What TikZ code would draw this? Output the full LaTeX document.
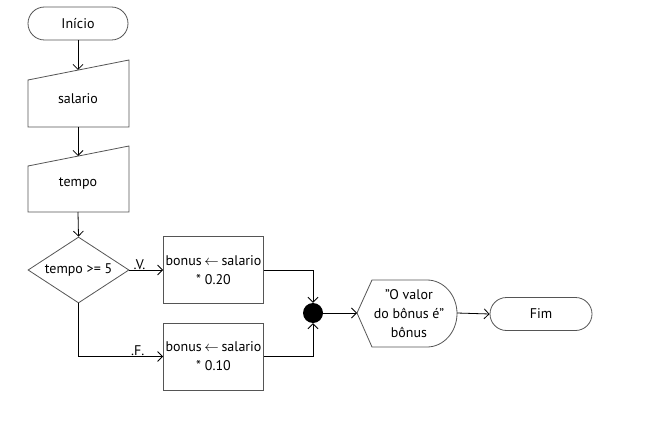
\documentclass[tikz,border=0pt]{standalone}
\usepackage{fontspec}
\setmainfont{PT Sans}
\usetikzlibrary{arrows.meta,shapes.geometric}
\definecolor{shapeline}{HTML}{555555}
\tikzset{
  x=1pt, y=-1pt,
  every node/.style={font=\fontsize{14}{19}\selectfont, text=black},
  shapeline/.style={draw=shapeline, line width=0.8pt},
  terminal/.style={shapeline, rounded corners=16.5pt, minimum height=33pt, inner sep=0pt},
  procbox/.style={shapeline, minimum width=100pt, minimum height=67pt, inner sep=0pt, align=center},
  decision/.style={shapeline, diamond, minimum width=101pt, minimum height=66pt, inner sep=0pt, aspect=1.5},
  conn/.style={draw=black, line width=0.8pt, -{Straight Barb[length=5pt,width=10pt]}},
  lbl/.style={font=\fontsize{14}{14}\selectfont},
}
\newcommand{\larr}{\kern-1pt$\leftarrow$\kern-1pt}
\newcommand{\dq}{\symbol{34}}
\begin{document}
\begin{tikzpicture}
\useasboundingbox[fill=white] (0,0) rectangle (645,433);
% start
\node[terminal, minimum width=100pt] (inicio) at (78,23.5) {Início};
% manual input: salario
\draw[shapeline] (28,80) -- (129,60) -- (129,127) -- (28,127) -- cycle;
\node (salario) at (78,99) {salario};
\coordinate (salarioTop) at (78,70);
\coordinate (salarioBot) at (78,127);
% manual input: tempo
\draw[shapeline] (28,166) -- (129,146) -- (129,212) -- (28,212) -- cycle;
\node (tempo) at (78,184) {tempo};
\coordinate (tempoTop) at (78,156);
\coordinate (tempoBot) at (78,212);
% decision
\node[decision] (dec) at (78.5,270) {tempo >= 5};
% process boxes
\node[procbox] (b1) at (213.5,270) {bonus \larr{} salario\\* 0.20};
\node[procbox] (b2) at (213.5,356.5) {bonus \larr{} salario\\* 0.10};
% junction
\node[circle, fill=black, minimum size=20pt, inner sep=0pt] (junc) at (313,313) {};
% display
\draw[shapeline] (357,313) -- (372,280) -- (427,280)
   arc[start angle=90, end angle=-90, x radius=30, y radius=-33.5] -- (372,347) -- cycle;
\node[align=center] (disp) at (409,313.5) {\dq O valor\\do bônus é\dq\\bônus};
\coordinate (dispL) at (357,313);
\coordinate (dispR) at (457,313);
% end
\node[terminal, minimum width=102pt] (fim) at (541,314) {Fim};
% connectors
\draw[conn] (inicio) -- (salarioTop);
\draw[conn] (salarioBot) -- (tempoTop);
\draw[conn] (tempoBot) -- (dec.north);
\draw[conn] (dec.east) -- node[lbl, above, pos=0.3, yshift=-3pt] {.V.} (b1.west);
\draw[conn] (dec.south) |- node[lbl, above, pos=0.85, yshift=-3pt] {.F.} (b2.west);
\draw[conn] (b1.east) -| (junc.north);
\draw[conn] (b2.east) -| (junc.south);
\draw[conn] (junc.east) -- (dispL);
\draw[conn] (dispR) -- (fim.west);
\end{tikzpicture}
\end{document}
